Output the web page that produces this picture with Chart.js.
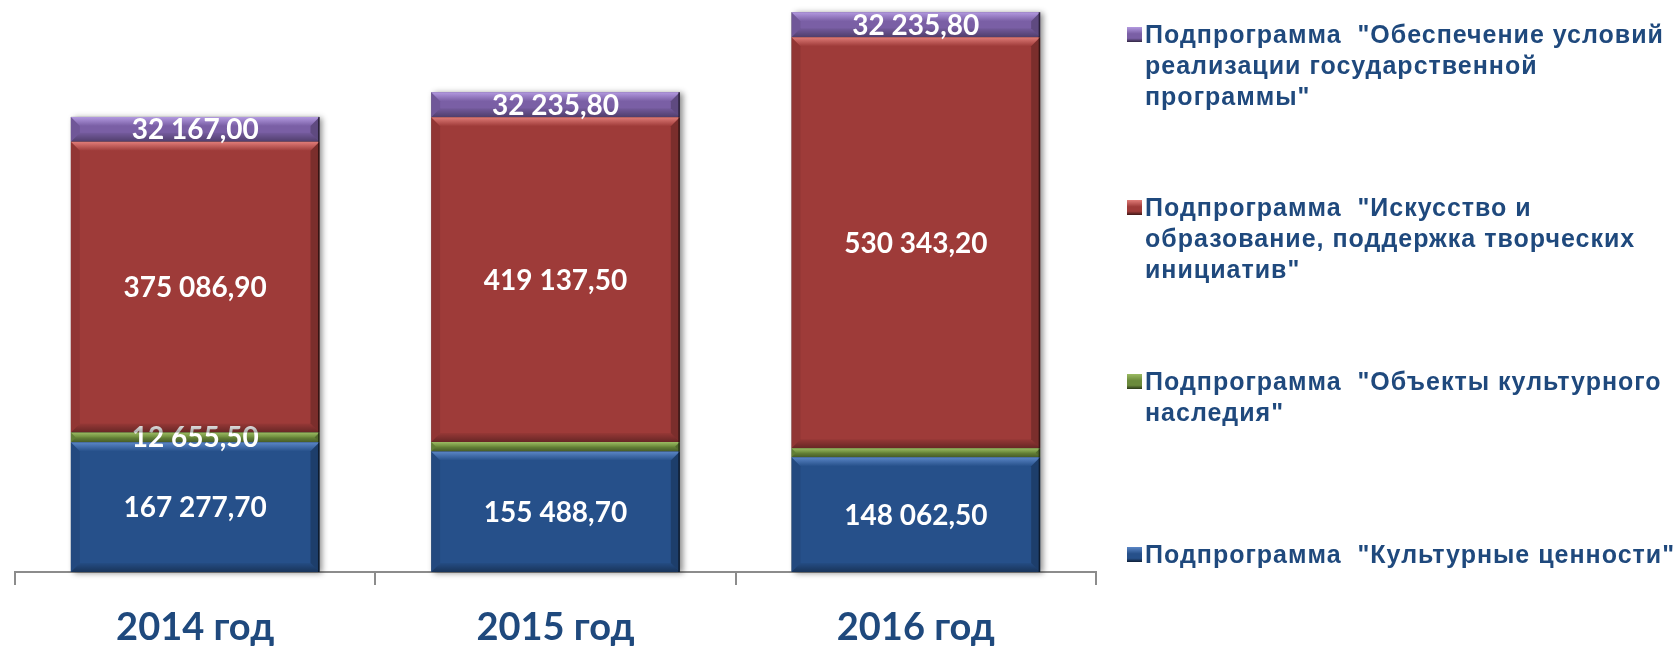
<!DOCTYPE html>
<html lang="ru">
<head>
<meta charset="utf-8">
<title>Подпрограммы 2014–2016</title>
<script src="https://cdn.jsdelivr.net/npm/chart.js@4/dist/chart.umd.min.js"></script>
<style>
  :root {
    --ink: #1f497d;
    --label: 'Lato', 'Open Sans', sans-serif;
    --legend: 'Liberation Sans', Arial, sans-serif;
  }
  html, body { margin: 0; padding: 0; background: #fff; }
  .wrap { position: relative; width: 1679px; height: 646px; }
  #budget-canvas { position: absolute; left: 0; top: 0; }
  .legend { position: absolute; left: 0; top: 0; }
  .legend-item {
    position: absolute;
    left: 1145px;
    font: bold 25px/31px var(--legend);
    letter-spacing: 1px;
    color: var(--ink);
    white-space: pre;
  }
  .legend-item i {
    position: absolute;
    left: -18px;
    top: 8px;
    width: 15px;
    height: 15px;
  }
</style>
</head>
<body>
<div class="wrap">
  <canvas id="budget-canvas" width="1679" height="646"></canvas>
  <div class="legend" id="legend"></div>
</div>
<script>
// Stacked bars: funding by subprogramme, 2014 → 2016.

const data = {
  years: ['2014 год', '2015 год', '2016 год'],
  // bottom → top
  series: [
    {
      name: 'Подпрограмма  "Культурные ценности"',
      color: '#26508a',
      light: '#5b86c6',
      values: [167277.7, 155488.7, 148062.5],
      shown: [true, true, true],
      legendTop: 539,
    },
    {
      name: 'Подпрограмма  "Объекты культурного\nнаследия"',
      color: '#6b8a3b',
      light: '#9bbb62',
      values: [12655.5, 12200, 11650],
      shown: [true, false, false],
      legendTop: 366,
    },
    {
      name: 'Подпрограмма  "Искусство и\nобразование, поддержка творческих\nинициатив"',
      color: '#9e3b39',
      light: '#e07c78',
      values: [375086.9, 419137.5, 530343.2],
      shown: [true, true, true],
      legendTop: 192,
    },
    {
      name: 'Подпрограмма  "Обеспечение условий\nреализации государственной\nпрограммы"',
      color: '#7a5fa5',
      light: '#b39ae0',
      values: [32167.0, 32235.8, 32235.8],
      shown: [true, true, true],
      legendTop: 19,
    },
  ],
};

function fmt(v) {
  const [int, dec] = v.toFixed(2).split('.');
  return int.replace(/\B(?=(\d{3})+(?!\d))/g, ' ') + ',' + dec;
}

function getCss(varname) {
  return getComputedStyle(document.documentElement).getPropertyValue(varname).trim() || '#000';
}

// soft shadow behind each stacked column
const shadowPlugin = {
  id: 'columnShadow',
  beforeDatasetsDraw(chart) {
    const ctx = chart.ctx;
    const metas = chart.getSortedVisibleDatasetMetas();
    data.years.forEach((_, i) => {
      let top = Infinity, bottom = -Infinity, left = 0, width = 0;
      metas.forEach((m) => {
        const p = m.data[i].getProps(['x', 'y', 'base', 'width'], true);
        top = Math.min(top, p.y, p.base);
        bottom = Math.max(bottom, p.y, p.base);
        left = p.x - p.width / 2;
        width = p.width;
      });
      ctx.save();
      ctx.shadowColor = 'rgba(0,0,0,0.45)';
      ctx.shadowBlur = 6;
      ctx.shadowOffsetX = 3;
      ctx.shadowOffsetY = 1;
      ctx.fillStyle = '#666';
      ctx.fillRect(left, top, width, bottom - top);
      ctx.restore();
    });
  },
};

// bevel edges + white value labels
const bevelPlugin = {
  id: 'bevelLabels',
  afterDatasetsDraw(chart) {
    const ctx = chart.ctx;
    chart.getSortedVisibleDatasetMetas().forEach((meta) => {
      const s = data.series[meta.index];
      meta.data.forEach((el, i) => {
        const p = el.getProps(['x', 'y', 'base', 'width'], true);
        const l = p.x - p.width / 2, r = p.x + p.width / 2;
        const t = Math.min(p.y, p.base), b = Math.max(p.y, p.base);
        const e = Math.min(9, (b - t) / 2);
        const quad = (pts, fill) => {
          ctx.beginPath();
          ctx.moveTo(pts[0], pts[1]);
          for (let k = 2; k < pts.length; k += 2) ctx.lineTo(pts[k], pts[k + 1]);
          ctx.closePath();
          ctx.fillStyle = fill;
          ctx.fill();
        };
        ctx.save();
        const gTop = ctx.createLinearGradient(0, t, 0, t + e);
        gTop.addColorStop(0, s.light);
        gTop.addColorStop(1, s.color);
        quad([l, t, r, t, r - e, t + e, l + e, t + e], gTop);
        const gBot = ctx.createLinearGradient(0, b - e, 0, b);
        gBot.addColorStop(0, 'rgba(0,0,0,0.05)');
        gBot.addColorStop(1, 'rgba(0,0,0,0.35)');
        quad([l, b, r, b, r - e, b - e, l + e, b - e], gBot);
        quad([l, t, l + e, t + e, l + e, b - e, l, b], 'rgba(0,0,0,0.08)');
        quad([r, t, r - e, t + e, r - e, b - e, r, b], 'rgba(0,0,0,0.22)');
        ctx.fillStyle = 'rgba(0,0,0,0.55)';
        ctx.fillRect(r - 1.5, t, 1.5, b - t);

        if (s.shown[i]) {
          ctx.font = 'bold 28px ' + getCss('--label');
          ctx.fillStyle = '#fff';
          ctx.textAlign = 'center';
          ctx.textBaseline = 'middle';
          ctx.fillText(fmt(s.values[i]), p.x, (t + b) / 2 + 1);
        }
        ctx.restore();
      });
    });
  },
};

function buildLegend() {
  const box = document.getElementById('legend');
  data.series.forEach((s) => {
    const div = document.createElement('div');
    div.className = 'legend-item';
    div.style.top = s.legendTop + 'px';
    const mark = document.createElement('i');
    mark.style.background = `linear-gradient(to bottom, ${s.light} 0%, ${s.color} 45%, ${s.color} 75%, rgba(0,0,0,0.6) 100%)`;
    mark.style.backgroundColor = s.color;
    div.appendChild(mark);
    div.appendChild(document.createTextNode(s.name));
    box.appendChild(div);
  });
}

function mountBudgetChart() {
  const canvas = document.getElementById('budget-canvas');
  if (!canvas || !window.Chart) return;
  const ink = getCss('--ink');

  new Chart(canvas, {
    type: 'bar',
    data: {
      labels: data.years,
      datasets: data.series.map((s) => ({
        label: s.name,
        data: s.values,
        backgroundColor: s.color,
        borderWidth: 0,
        categoryPercentage: 1,
        barPercentage: 0.69,
      })),
    },
    options: {
      responsive: false,
      animation: false,
      layout: { padding: { left: 15, right: 583, top: 0, bottom: 0 } },
      plugins: { legend: { display: false }, tooltip: { enabled: false } },
      scales: {
        x: {
          stacked: true,
          grid: { display: true, offset: true, drawOnChartArea: false, color: '#8c8c8c', lineWidth: 2, tickLength: 13 },
          border: { display: true, color: '#8c8c8c', width: 2 },
          ticks: { color: ink, font: { family: getCss('--label'), size: 38, weight: 'bold' }, padding: 20 },
          afterFit: (scale) => { scale.height = 74; },
        },
        y: { stacked: true, display: false, min: 0, max: 738000 },
      },
    },
    plugins: [shadowPlugin, bevelPlugin],
  });
}

buildLegend();
mountBudgetChart();
</script>
</body>
</html>
